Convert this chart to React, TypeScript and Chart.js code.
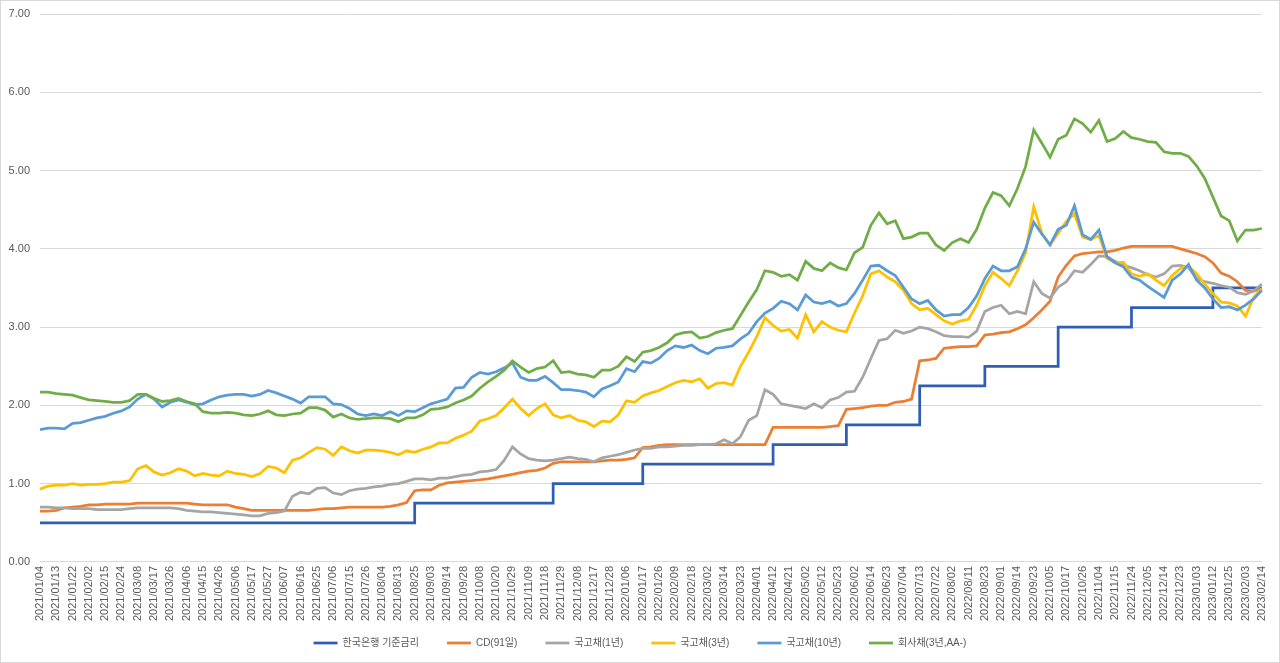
import React, { useEffect, useRef } from "react";
import { Chart, registerables } from "chart.js";

Chart.register(...registerables);

const dateLabels = [
  "2021/01/04", "2021/01/13", "2021/01/22", "2021/02/02", "2021/02/15", "2021/02/24", "2021/03/08", "2021/03/17",
  "2021/03/26", "2021/04/06", "2021/04/15", "2021/04/26", "2021/05/06", "2021/05/17", "2021/05/27", "2021/06/07",
  "2021/06/16", "2021/06/25", "2021/07/06", "2021/07/15", "2021/07/26", "2021/08/04", "2021/08/13", "2021/08/25",
  "2021/09/03", "2021/09/14", "2021/09/28", "2021/10/08", "2021/10/20", "2021/10/29", "2021/11/09", "2021/11/18",
  "2021/11/29", "2021/12/08", "2021/12/17", "2021/12/28", "2022/01/06", "2022/01/17", "2022/01/26", "2022/02/09",
  "2022/02/18", "2022/03/02", "2022/03/14", "2022/03/23", "2022/04/01", "2022/04/12", "2022/04/21", "2022/05/02",
  "2022/05/12", "2022/05/23", "2022/06/02", "2022/06/14", "2022/06/23", "2022/07/04", "2022/07/13", "2022/07/22",
  "2022/08/02", "2022/08/11", "2022/08/23", "2022/09/01", "2022/09/14", "2022/09/23", "2022/10/05", "2022/10/17",
  "2022/10/26", "2022/11/04", "2022/11/15", "2022/11/24", "2022/12/05", "2022/12/14", "2022/12/23", "2023/01/03",
  "2023/01/12", "2023/01/25", "2023/02/03", "2023/02/14",
];

const seriesNames = ["한국은행 기준금리", "CD(91일)", "국고채(1년)", "국고채(3년)", "국고채(10년)", "회사채(3년,AA-)"];
const seriesColors = ["#2F5FB5", "#ED7D31", "#A5A5A5", "#FFC000", "#5B9BD5", "#70AD47"];

const baseRate = [
  0.5, 0.5, 0.5, 0.5, 0.5, 0.5, 0.5, 0.5, 0.5, 0.5,
  0.5, 0.5, 0.5, 0.5, 0.5, 0.5, 0.5, 0.5, 0.5, 0.5,
  0.5, 0.5, 0.5, 0.5, 0.5, 0.5, 0.5, 0.5, 0.5, 0.5,
  0.5, 0.5, 0.5, 0.5, 0.5, 0.5, 0.5, 0.5, 0.5, 0.5,
  0.5, 0.5, 0.5, 0.5, 0.5, 0.5, 0.75, 0.75, 0.75, 0.75,
  0.75, 0.75, 0.75, 0.75, 0.75, 0.75, 0.75, 0.75, 0.75, 0.75,
  0.75, 0.75, 0.75, 1.0, 1.0, 1.0, 1.0, 1.0, 1.0, 1.0,
  1.0, 1.0, 1.0, 1.0, 1.25, 1.25, 1.25, 1.25, 1.25, 1.25,
  1.25, 1.25, 1.25, 1.25, 1.25, 1.25, 1.25, 1.25, 1.25, 1.25,
  1.5, 1.5, 1.5, 1.5, 1.5, 1.5, 1.5, 1.5, 1.5, 1.75,
  1.75, 1.75, 1.75, 1.75, 1.75, 1.75, 1.75, 1.75, 2.25, 2.25,
  2.25, 2.25, 2.25, 2.25, 2.25, 2.25, 2.5, 2.5, 2.5, 2.5,
  2.5, 2.5, 2.5, 2.5, 2.5, 3.0, 3.0, 3.0, 3.0, 3.0,
  3.0, 3.0, 3.0, 3.0, 3.25, 3.25, 3.25, 3.25, 3.25, 3.25,
  3.25, 3.25, 3.25, 3.25, 3.5, 3.5, 3.5, 3.5, 3.5, 3.5,
  3.5,
];

const cd91 = [
  0.65, 0.65, 0.66, 0.69, 0.70, 0.71, 0.73, 0.73, 0.74, 0.74,
  0.74, 0.74, 0.75, 0.75, 0.75, 0.75, 0.75, 0.75, 0.75, 0.74,
  0.73, 0.73, 0.73, 0.73, 0.70, 0.68, 0.66, 0.66, 0.66, 0.66,
  0.66, 0.66, 0.66, 0.66, 0.67, 0.68, 0.68, 0.69, 0.70, 0.70,
  0.70, 0.70, 0.70, 0.71, 0.73, 0.76, 0.91, 0.92, 0.92, 0.98,
  1.01, 1.02, 1.03, 1.04, 1.05, 1.06, 1.08, 1.10, 1.12, 1.14,
  1.16, 1.17, 1.20, 1.26, 1.28, 1.28, 1.28, 1.28, 1.28, 1.29,
  1.30, 1.30, 1.31, 1.33, 1.46, 1.47, 1.49, 1.50, 1.50, 1.50,
  1.50, 1.50, 1.50, 1.50, 1.50, 1.50, 1.50, 1.50, 1.50, 1.50,
  1.72, 1.72, 1.72, 1.72, 1.72, 1.72, 1.72, 1.73, 1.74, 1.95,
  1.96, 1.97, 1.99, 2.00, 2.00, 2.04, 2.05, 2.08, 2.57, 2.58,
  2.60, 2.73, 2.74, 2.75, 2.75, 2.76, 2.90, 2.91, 2.93, 2.94,
  2.98, 3.03, 3.12, 3.22, 3.33, 3.64, 3.79, 3.91, 3.94, 3.95,
  3.96, 3.96, 3.98, 4.01, 4.03, 4.03, 4.03, 4.03, 4.03, 4.03,
  4.00, 3.97, 3.94, 3.90, 3.82, 3.69, 3.65, 3.58, 3.47, 3.46,
  3.49,
];

const ktb1y = [
  0.70, 0.70, 0.69, 0.69, 0.68, 0.68, 0.68, 0.67, 0.67, 0.67,
  0.67, 0.68, 0.69, 0.69, 0.69, 0.69, 0.69, 0.68, 0.66, 0.65,
  0.64, 0.64, 0.63, 0.62, 0.61, 0.60, 0.59, 0.59, 0.62, 0.63,
  0.65, 0.84, 0.89, 0.87, 0.94, 0.95, 0.88, 0.86, 0.91, 0.93,
  0.94, 0.96, 0.97, 0.99, 1.00, 1.03, 1.06, 1.06, 1.05, 1.07,
  1.07, 1.09, 1.11, 1.12, 1.15, 1.16, 1.18, 1.30, 1.47, 1.38,
  1.32, 1.30, 1.29, 1.30, 1.32, 1.34, 1.32, 1.31, 1.28, 1.33,
  1.35, 1.37, 1.40, 1.43, 1.45, 1.45, 1.47, 1.47, 1.48, 1.49,
  1.49, 1.50, 1.50, 1.51, 1.56, 1.51, 1.60, 1.81, 1.87, 2.20,
  2.14, 2.02, 2.00, 1.98, 1.96, 2.02, 1.97, 2.07, 2.10, 2.17,
  2.18, 2.36, 2.60, 2.83, 2.85, 2.96, 2.92, 2.95, 3.00, 2.98,
  2.94, 2.89, 2.88, 2.88, 2.87, 2.95, 3.20, 3.25, 3.28, 3.17,
  3.20, 3.17, 3.58, 3.43, 3.37, 3.51, 3.58, 3.72, 3.70, 3.80,
  3.91, 3.90, 3.84, 3.79, 3.76, 3.72, 3.67, 3.64, 3.68, 3.78,
  3.79, 3.76, 3.62, 3.58, 3.56, 3.53, 3.51, 3.44, 3.42, 3.46,
  3.55,
];

const ktb3y = [
  0.93, 0.97, 0.98, 0.98, 1.00, 0.98, 0.99, 0.99, 1.00, 1.02,
  1.02, 1.04, 1.19, 1.23, 1.15, 1.11, 1.14, 1.19, 1.16, 1.10,
  1.13, 1.11, 1.10, 1.16, 1.13, 1.12, 1.09, 1.13, 1.22, 1.20,
  1.14, 1.30, 1.33, 1.40, 1.46, 1.44, 1.36, 1.47, 1.42, 1.39,
  1.43, 1.43, 1.42, 1.40, 1.37, 1.42, 1.40, 1.44, 1.47, 1.52,
  1.52, 1.58, 1.62, 1.67, 1.80, 1.83, 1.87, 1.97, 2.08, 1.96,
  1.87, 1.96, 2.02, 1.88, 1.84, 1.87, 1.81, 1.79, 1.73, 1.80,
  1.79, 1.88, 2.06, 2.04, 2.12, 2.16, 2.19, 2.24, 2.29, 2.32,
  2.30, 2.34, 2.22, 2.28, 2.29, 2.26, 2.50, 2.68, 2.88, 3.12,
  3.02, 2.95, 2.97, 2.86, 3.16, 2.94, 3.07, 3.00, 2.96, 2.94,
  3.18, 3.40, 3.68, 3.72, 3.64, 3.58, 3.47, 3.30, 3.22, 3.24,
  3.16, 3.08, 3.04, 3.08, 3.10, 3.28, 3.53, 3.70, 3.62, 3.53,
  3.72, 3.95, 4.54, 4.20, 4.05, 4.20, 4.35, 4.45, 4.15, 4.12,
  4.17, 3.88, 3.82, 3.83, 3.68, 3.65, 3.68, 3.60, 3.53, 3.66,
  3.75, 3.78, 3.68, 3.55, 3.43, 3.32, 3.31, 3.27, 3.14, 3.38,
  3.49,
];

const ktb10y = [
  1.69, 1.71, 1.71, 1.70, 1.77, 1.78, 1.81, 1.84, 1.86, 1.90,
  1.93, 1.98, 2.08, 2.14, 2.08, 1.98, 2.04, 2.07, 2.04, 2.01,
  2.02, 2.07, 2.11, 2.13, 2.14, 2.14, 2.12, 2.14, 2.19, 2.16,
  2.12, 2.08, 2.03, 2.11, 2.11, 2.11, 2.02, 2.01, 1.96, 1.89,
  1.87, 1.89, 1.87, 1.92, 1.87, 1.93, 1.92, 1.97, 2.02, 2.05,
  2.08, 2.22, 2.23, 2.36, 2.42, 2.40, 2.43, 2.48, 2.54, 2.36,
  2.32, 2.32, 2.37, 2.29, 2.20, 2.20, 2.19, 2.17, 2.11, 2.21,
  2.25, 2.30, 2.47, 2.43, 2.56, 2.54, 2.60, 2.70, 2.76, 2.74,
  2.77, 2.70, 2.66, 2.73, 2.74, 2.76, 2.85, 2.92, 3.07, 3.18,
  3.24, 3.33, 3.30, 3.22, 3.41, 3.32, 3.30, 3.33, 3.27, 3.30,
  3.43, 3.60, 3.78, 3.79, 3.72, 3.66, 3.51, 3.36, 3.30, 3.34,
  3.22, 3.14, 3.16, 3.16, 3.25, 3.40, 3.62, 3.78, 3.72, 3.72,
  3.77, 4.00, 4.34, 4.19, 4.05, 4.25, 4.30, 4.55, 4.18, 4.12,
  4.24, 3.90, 3.82, 3.77, 3.64, 3.60, 3.52, 3.45, 3.38, 3.60,
  3.68, 3.80, 3.60, 3.50, 3.36, 3.25, 3.26, 3.22, 3.28, 3.36,
  3.47,
];

const corp3y = [
  2.17, 2.17, 2.15, 2.14, 2.13, 2.10, 2.07, 2.06, 2.05, 2.04,
  2.04, 2.06, 2.14, 2.14, 2.09, 2.05, 2.06, 2.09, 2.05, 2.02,
  1.92, 1.90, 1.90, 1.91, 1.90, 1.88, 1.87, 1.89, 1.93, 1.88,
  1.87, 1.89, 1.90, 1.97, 1.97, 1.94, 1.85, 1.89, 1.84, 1.82,
  1.83, 1.84, 1.84, 1.83, 1.79, 1.84, 1.84, 1.88, 1.95, 1.96,
  1.98, 2.03, 2.07, 2.12, 2.22, 2.30, 2.37, 2.45, 2.57, 2.49,
  2.42, 2.47, 2.49, 2.57, 2.42, 2.43, 2.40, 2.39, 2.36, 2.45,
  2.45, 2.50, 2.62, 2.56, 2.68, 2.70, 2.74, 2.80, 2.90, 2.93,
  2.94, 2.86, 2.88, 2.93, 2.96, 2.98, 3.15, 3.32, 3.48, 3.72,
  3.70, 3.65, 3.67, 3.60, 3.84, 3.75, 3.72, 3.82, 3.76, 3.73,
  3.95, 4.02, 4.30, 4.46, 4.32, 4.36, 4.13, 4.15, 4.20, 4.20,
  4.05, 3.98, 4.08, 4.13, 4.08, 4.25, 4.52, 4.72, 4.68, 4.55,
  4.77, 5.05, 5.52, 5.35, 5.17, 5.40, 5.45, 5.66, 5.60, 5.49,
  5.64, 5.37, 5.41, 5.50, 5.42, 5.40, 5.37, 5.36, 5.24, 5.22,
  5.22, 5.18, 5.06, 4.90, 4.66, 4.42, 4.36, 4.10, 4.24, 4.24,
  4.26,
];

const yTickMin = 0;
const yTickMax = 7;
const yTickStep = 1;

const legendShift = {
  id: "legendShift",
  afterLayout(chart: any) {
    const lg = chart.legend;
    if (lg) {
      lg.top -= 15;
      lg.bottom -= 15;
      lg.left += 4;
      lg.right += 4;
    }
  },
};

export default function App() {
  const canvasRef = useRef<HTMLCanvasElement | null>(null);

  useEffect(() => {
    document.body.style.margin = "0";
    const canvas = canvasRef.current;
    if (!canvas) return;

    const labels: string[] = dateLabels.flatMap((d, i) => (i < dateLabels.length - 1 ? [d, ""] : [d]));
    const values = [baseRate, cd91, ktb1y, ktb3y, ktb10y, corp3y];

    const tickFamily = "'Liberation Sans', Arial, sans-serif";
    const legendFamily = "'Liberation Sans', 'Noto Sans CJK KR', sans-serif";
    const textColor = "#595959";

    const chart = new Chart(canvas, {
      type: "line",
      data: {
        labels,
        datasets: values.map((v, i) => ({
          label: seriesNames[i],
          data: v,
          borderColor: seriesColors[i],
          backgroundColor: seriesColors[i],
          borderWidth: 2.75,
          pointRadius: 0,
          pointHoverRadius: 0,
          tension: 0,
          stepped: i === 0 ? true : false,
          fill: false,
          order: values.length - 1 - i,
        })),
      },
      plugins: [legendShift],
      options: {
        animation: false,
        responsive: true,
        maintainAspectRatio: false,
        layout: { padding: { left: 6, right: 14, top: 1, bottom: -11 } },
        plugins: {
          tooltip: { enabled: false },
          legend: {
            position: "bottom",
            labels: {
              usePointStyle: true,
              pointStyle: "line",
              pointStyleWidth: 24,
              padding: 28,
              color: textColor,
              font: { family: legendFamily, size: 10 },
              sort: (a, b) => (a.datasetIndex ?? 0) - (b.datasetIndex ?? 0),
            },
          },
        },
        scales: {
          x: {
            type: "category",
            offset: false,
            grid: { display: false, drawTicks: false },
            border: { display: false },
            ticks: {
              autoSkip: false,
              maxRotation: 90,
              minRotation: 90,
              padding: 4,
              color: textColor,
              font: { family: tickFamily, size: 11 },
            },
          },
          y: {
            min: yTickMin,
            max: yTickMax,
            grid: { color: "#d9d9d9", lineWidth: 1, drawTicks: false },
            border: { display: false },
            afterFit: (scale: any) => {
              scale.width = 33;
              scale.paddingTop = 13;
            },
            ticks: {
              stepSize: yTickStep,
              padding: 10,
              color: textColor,
              font: { family: tickFamily, size: 11 },
              callback: (v) => Number(v).toFixed(2),
            },
          },
        },
      },
    });

    return () => chart.destroy();
  }, []);

  return (
    <div
      style={{
        position: "fixed",
        left: 0,
        top: 0,
        width: 1280,
        height: 663,
        boxSizing: "border-box",
        border: "1px solid #d9d9d9",
        background: "#ffffff",
      }}
    >
      <div style={{ position: "relative", width: "100%", height: "100%" }}>
        <canvas ref={canvasRef} />
      </div>
    </div>
  );
}
